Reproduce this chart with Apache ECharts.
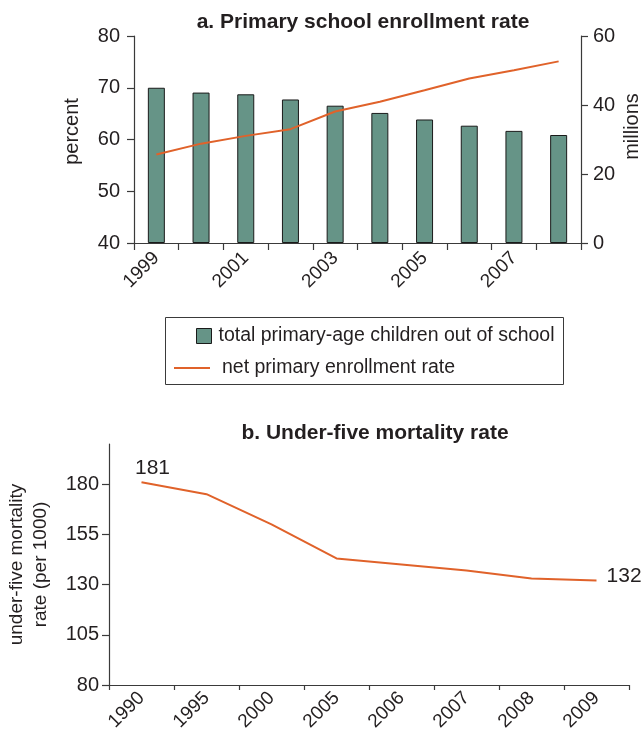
<!DOCTYPE html>
<html>
<head>
<meta charset="utf-8">
<script src="https://cdn.jsdelivr.net/npm/echarts@6/dist/echarts.min.js"></script>
<style>
html,body{margin:0;padding:0;background:#fff;}
#c{width:642px;height:731px;}
</style>
</head>
<body>
<div id="c"></div>
<script>
// ---- data ----
const enrollYears = ['1999','2000','2001','2002','2003','2004','2005','2006','2007','2008'];
const outOfSchoolMillions = [45.0, 43.6, 43.1, 41.6, 39.8, 37.7, 35.8, 34.0, 32.5, 31.3];
const netEnrollmentRate = [57.1, 59.2, 60.7, 62.0, 65.4, 67.3, 69.5, 71.8, 73.4, 75.1];
const percentTicks = [40, 50, 60, 70, 80];
const millionsTicks = [0, 20, 40, 60];

const mortalityYears = ['1990','1995','2000','2005','2006','2007','2008','2009'];
const mortalityRate = [181, 175, 160, 143, 140, 137, 133, 132];
const mortalityTicks = [80, 105, 130, 155, 180];

// ---- styles ----
const FONT = '"Liberation Sans", Arial, sans-serif';
const TXT = '#231f20';
const AXIS = '#3a3a3a';
const ORANGE = '#e0622a';
const GREEN = '#669487';

const axisLineStyle = {show: true, lineStyle: {color: AXIS, width: 1.2}};
const tickStyle = {show: true, length: 7, lineStyle: {color: AXIS, width: 1.2}};
const lblStyle = {color: TXT, fontFamily: FONT, fontSize: 20};

const chart = echarts.init(document.getElementById('c'), null, {renderer: 'canvas'});

const lastIdx = mortalityRate.length - 1;
const mortalityData = mortalityRate.map((v, i) => {
  if (i === 0) return {value: v, symbol: 'circle', symbolSize: 0.1,
    label: {show: true, position: 'top', offset: [11, 2]}};
  if (i === lastIdx) return {value: v, symbol: 'circle', symbolSize: 0.1,
    label: {show: true, position: 'right', distance: 10, offset: [0, -4]}};
  return v;
});

const option = {
  animation: false,
  backgroundColor: '#fff',
  title: [
    {text: 'a. Primary school enrollment rate', left: 358, top: 7, textAlign: 'center',
     textStyle: {fontFamily: FONT, fontSize: 21, fontWeight: 'bold', color: TXT}},
    {text: 'b. Under-five mortality rate', left: 370, top: 418, textAlign: 'center',
     textStyle: {fontFamily: FONT, fontSize: 21, fontWeight: 'bold', color: TXT}}
  ],
  legend: [
    {data: [{name: 'total primary-age children out of school', icon: 'rect'}],
     left: 191, top: 321, itemWidth: 15, itemHeight: 15, selectedMode: false,
     itemStyle: {borderColor: '#1a1a1a', borderWidth: 1},
     textStyle: {fontFamily: FONT, fontSize: 19.5, color: TXT, padding: [0, 0, 0, 2]}},
    {data: [{name: 'net primary enrollment rate', icon: 'rect'}],
     left: 169, top: 353, itemWidth: 36, itemHeight: 2, selectedMode: false,
     textStyle: {fontFamily: FONT, fontSize: 19.5, color: TXT, padding: [0, 0, 0, 7]}}
  ],
  graphic: [
    {type: 'rect', left: 163, top: 315, shape: {width: 398, height: 67},
     style: {fill: 'none', stroke: '#3a3a3a', lineWidth: 1}, silent: true}
  ],
  grid: [
    {left: 134, right: 61, top: 36, height: 207, containLabel: false, outerBoundsMode: 'none'},
    {left: 109, right: 13, top: 444, height: 241, containLabel: false, outerBoundsMode: 'none'}
  ],
  xAxis: [
    {type: 'category', gridIndex: 0, data: enrollYears, boundaryGap: true,
     axisLine: axisLineStyle, axisTick: Object.assign({interval: 0}, tickStyle),
     axisLabel: Object.assign({interval: 1, rotate: 45, margin: 12}, lblStyle, {fontSize: 19}),
     splitLine: {show: false}},
    {type: 'category', gridIndex: 1, data: mortalityYears, boundaryGap: true,
     axisLine: axisLineStyle, axisTick: Object.assign({interval: 0}, tickStyle, {length: 5}),
     axisLabel: Object.assign({interval: 0, rotate: 45, margin: 10}, lblStyle, {fontSize: 19}),
     splitLine: {show: false}}
  ],
  yAxis: [
    {type: 'value', gridIndex: 0, position: 'left', min: percentTicks[0], max: percentTicks[percentTicks.length - 1], interval: 10,
     name: 'percent', nameLocation: 'middle', nameGap: 52, nameRotate: 90, nameMoveOverlap: false,
     nameTextStyle: {fontFamily: FONT, fontSize: 20, color: TXT, padding: [0, 0, 0, 16]},
     axisLine: axisLineStyle, axisTick: tickStyle,
     axisLabel: Object.assign({margin: 14}, lblStyle), splitLine: {show: false}},
    {type: 'value', gridIndex: 0, position: 'right', min: millionsTicks[0], max: millionsTicks[millionsTicks.length - 1], interval: 20,
     name: 'millions', nameLocation: 'middle', nameGap: 41, nameRotate: 90, nameMoveOverlap: false,
     nameTextStyle: {fontFamily: FONT, fontSize: 20, color: TXT, padding: [0, 0, 0, 26]},
     axisLine: axisLineStyle, axisTick: tickStyle,
     axisLabel: Object.assign({margin: 12}, lblStyle), splitLine: {show: false}},
    {type: 'value', gridIndex: 1, min: 80, max: 200,
     name: 'under-five mortality\nrate (per 1000)', nameLocation: 'middle', nameGap: 56, nameRotate: 90, nameMoveOverlap: false,
     nameTextStyle: {fontFamily: FONT, fontSize: 19, color: TXT, lineHeight: 24},
     axisLine: axisLineStyle,
     axisTick: Object.assign({customValues: mortalityTicks}, tickStyle),
     axisLabel: Object.assign({customValues: mortalityTicks, margin: 10}, lblStyle),
     splitLine: {show: false}}
  ],
  series: [
    {name: 'total primary-age children out of school', type: 'bar', xAxisIndex: 0, yAxisIndex: 1,
     data: outOfSchoolMillions, barWidth: 17,
     itemStyle: {color: GREEN, borderColor: '#1a1a1a', borderWidth: 1}},
    {name: 'net primary enrollment rate', type: 'line', xAxisIndex: 0, yAxisIndex: 0,
     data: netEnrollmentRate, symbol: 'none', showSymbol: false,
     lineStyle: {color: ORANGE, width: 2}, itemStyle: {color: ORANGE}},
    {name: 'under-five mortality rate', type: 'line', xAxisIndex: 1, yAxisIndex: 2,
     data: mortalityData, symbol: 'none', showSymbol: true,
     label: {show: false, fontFamily: FONT, fontSize: 21, color: TXT},
     lineStyle: {color: ORANGE, width: 2}, itemStyle: {color: ORANGE}}
  ]
};
chart.setOption(option);
</script>
</body>
</html>
